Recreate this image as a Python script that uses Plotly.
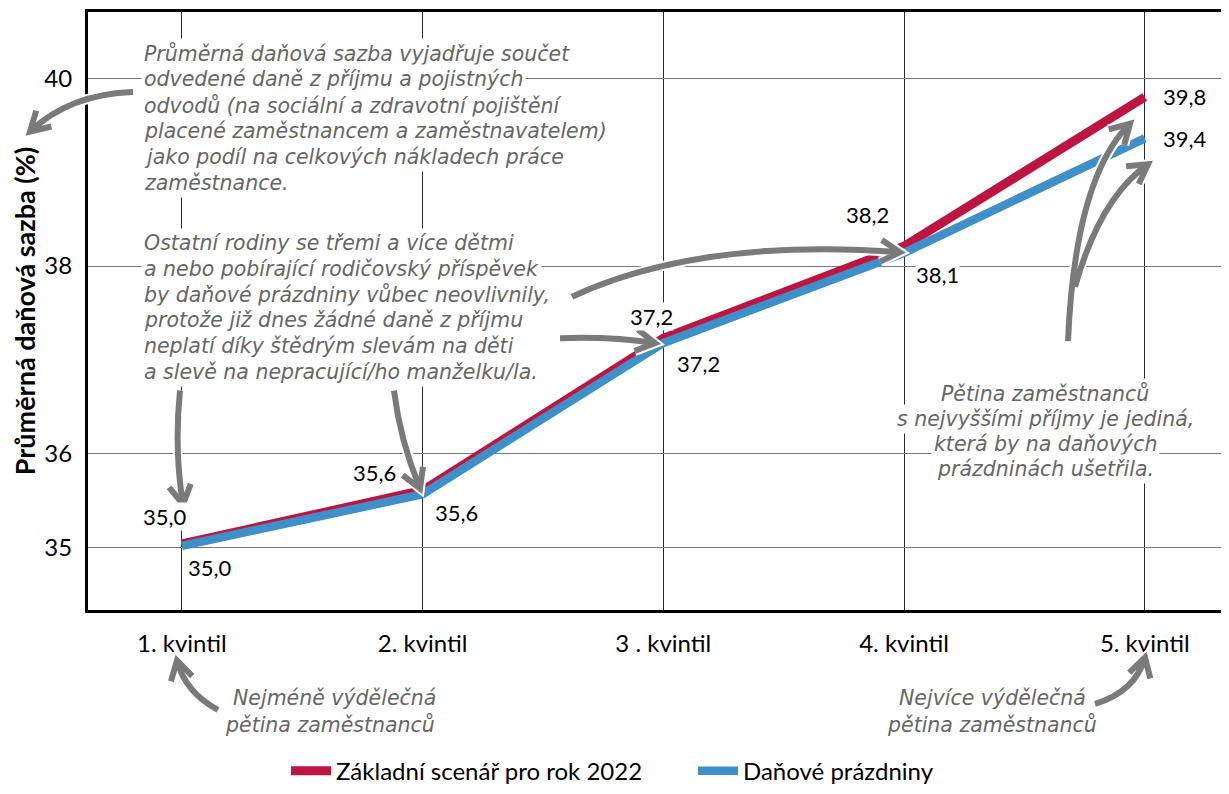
import math
import plotly.graph_objects as go

# ---------------- data ----------------
categories = ["1. kvintil", "2. kvintil", "3 . kvintil", "4. kvintil", "5. kvintil"]
baseline_2022 = [35.04, 35.61, 37.23, 38.21, 39.80]
tax_holiday = [35.02, 35.57, 37.18, 38.14, 39.36]
y_ticks = [35, 36, 38, 40]
series_names = ["Základní scenář pro rok 2022", "Daňové prázdniny"]
y_title = "Průměrná daňová sazba (%)"

note_top = ["Průměrná daňová sazba vyjadřuje součet",
            "odvedené daně z příjmu a pojistných",
            "odvodů (na sociální a zdravotní pojištění",
            "placené zaměstnancem a zaměstnavatelem)",
            "jako podíl na celkových nákladech práce",
            "zaměstnance."]
note_mid = ["Ostatní rodiny se třemi a více dětmi",
            "a nebo pobírající rodičovský příspěvek",
            "by daňové prázdniny vůbec neovlivnily,",
            "protože již dnes žádné daně z příjmu",
            "neplatí díky štědrým slevám na děti",
            "a slevě na nepracující/ho manželku/la."]
note_right = ["Pětina zaměstnanců",
              "s nejvyššími příjmy je jediná,",
              "která by na daňových",
              "prázdninách ušetřila."]
note_low = ["Nejméně výdělečná", "pětina zaměstnanců"]
note_high = ["Nejvíce výdělečná", "pětina zaměstnanců"]

# ---------------- styles / layout geometry ----------------
RED = "#BE1440"
BLUE = "#3F8FC8"
GRAY = "#7A7A7A"
NOTE_GRAY = "#666666"
BASE_FONT = "Lato"
HAND_FONT = "DejaVu Sans"

OFF = 8                       # page body margin
W_FIG, H_FIG = 1221, 786
L, T, R, B = 80, 4, 0, 177
PW = W_FIG - L - R
PH = H_FIG - T - B


def P(sx, sy):
    """screen pixel -> paper fraction"""
    return (sx - OFF - L) / PW, (T + PH - (sy - OFF)) / PH


# label offsets (pixels) for data labels
red_shift = [(-17, 27), (-48, 18), (-12, 22), (-37, 32), (40, 0)]
blue_shift = [(28, -22), (34, -18), (35, -20), (33, -22), (40, 0)]

fig = go.Figure()
fig.add_trace(go.Scatter(x=list(range(len(categories))), y=baseline_2022, mode="lines",
                         name=series_names[0], line=dict(color=RED, width=9)))
fig.add_trace(go.Scatter(x=list(range(len(categories))), y=tax_holiday, mode="lines",
                         name=series_names[1], line=dict(color=BLUE, width=8.5)))


def fmt(v):
    return f"{v:.1f}".replace(".", ",")


annotations = []
for vals, shifts in ((baseline_2022, red_shift), (tax_holiday, blue_shift)):
    for i, v in enumerate(vals):
        annotations.append(dict(x=i, y=v, xref="x", yref="y", text=fmt(v), showarrow=False,
                                xshift=shifts[i][0], yshift=shifts[i][1],
                                font=dict(family=BASE_FONT, size=22, color="black"),
                                bgcolor="white", borderpad=0))


def note(lines, sx, sy0, step, xanchor, bg="white"):
    out = []
    for k, s in enumerate(lines):
        x, y = P(sx, sy0 + k * step)
        out.append(dict(x=x, y=y, xref="paper", yref="paper", xanchor=xanchor,
                        yanchor="middle", text=f"<i>{s}</i>", showarrow=False,
                        bgcolor=bg, borderpad=2,
                        font=dict(family=HAND_FONT, size=20.5, color=NOTE_GRAY)))
    return out


annotations += note(note_top, 141, 54, 26.2, "left")
annotations += note(note_mid, 141, 246, 26, "left")
annotations += note(note_right, 1045, 398, 25.6, "center")
annotations += note(note_low[:1], 230, 706, 27, "left", bg=None)
annotations += note(note_low[1:], 222, 733, 27, "left", bg=None)
annotations += note(note_high, 992, 706, 27, "center", bg=None)
for a in annotations:
    if a.get("bgcolor") is None:
        a.pop("bgcolor")

# hand-drawn style arrows: quadratic curves (screen pixels) -> paper
arrows = [
    ((133, 93), (70, 95), (30, 133)),
    ((180, 395), (174, 455), (183, 510)),
    ((394, 395), (400, 445), (420, 494)),
    ((560, 342), (610, 340), (655, 347)),
    ((572, 300), (700, 240), (900, 255)),
    ((1068, 345), (1075, 180), (1130, 125)),
    ((1075, 290), (1100, 200), (1148, 166)),
    ((218, 718), (185, 700), (177, 668)),
    ((1095, 712), (1135, 700), (1145, 665)),
]


def arrow_path(p0, c, p1, head=22, ang=30):
    def pp(pt):
        x, y = P(*pt)
        return f"{x:.5f},{y:.5f}"
    dx, dy = p1[0] - c[0], p1[1] - c[1]
    n = math.hypot(dx, dy)
    ux, uy = dx / n, dy / n
    a = math.radians(ang)
    b1 = (p1[0] - head * (ux * math.cos(a) - uy * math.sin(a)),
          p1[1] - head * (uy * math.cos(a) + ux * math.sin(a)))
    b2 = (p1[0] - head * (ux * math.cos(a) + uy * math.sin(a)),
          p1[1] - head * (uy * math.cos(a) - ux * math.sin(a)))
    return (f"M{pp(p0)} Q{pp(c)} {pp(p1)} "
            f"M{pp(b1)} L{pp(p1)} L{pp(b2)}")


shapes = []
for color, width in (("white", 10), (GRAY, 6)):
    for p0, c, p1 in arrows:
        shapes.append(dict(type="path", path=arrow_path(p0, c, p1), xref="paper", yref="paper",
                           layer="above", line=dict(color=color, width=width)))

lx, ly = P(286, 780)

fig.update_layout(
    width=W_FIG, height=H_FIG,
    margin=dict(l=L, r=R, t=T, b=B, pad=0),
    paper_bgcolor="white", plot_bgcolor="white",
    font=dict(family=BASE_FONT, color="black"),
    showlegend=True,
    legend=dict(orientation="h", x=lx, y=ly, xanchor="left", yanchor="middle",
                font=dict(family=BASE_FONT, size=24, color="black"),
                itemwidth=40, entrywidth=352, entrywidthmode="pixels",
                bgcolor="rgba(0,0,0,0)"),
    annotations=annotations,
    shapes=shapes,
    xaxis=dict(range=[-0.39, 4.35], tickvals=list(range(len(categories))), ticktext=categories,
               showgrid=True, gridcolor="#2a2a2a", gridwidth=1, zeroline=False,
               showline=True, linecolor="black", linewidth=3, mirror=True,
               ticks="", ticklabelstandoff=10,
               tickfont=dict(family=BASE_FONT, size=24, color="black")),
    yaxis=dict(range=[34.337, 40.705], tickvals=y_ticks, ticktext=[str(v) for v in y_ticks],
               showgrid=True, gridcolor="#777777", gridwidth=1, zeroline=False,
               showline=True, linecolor="black", linewidth=3,
               ticks="", ticklabelstandoff=8,
               tickfont=dict(family=BASE_FONT, size=24, color="black")),
)
fig.update_yaxes(title=dict(text=f"<b>{y_title}</b>", standoff=16,
                            font=dict(family=BASE_FONT, size=27, color="black")))

fig.write_html("out.html")
